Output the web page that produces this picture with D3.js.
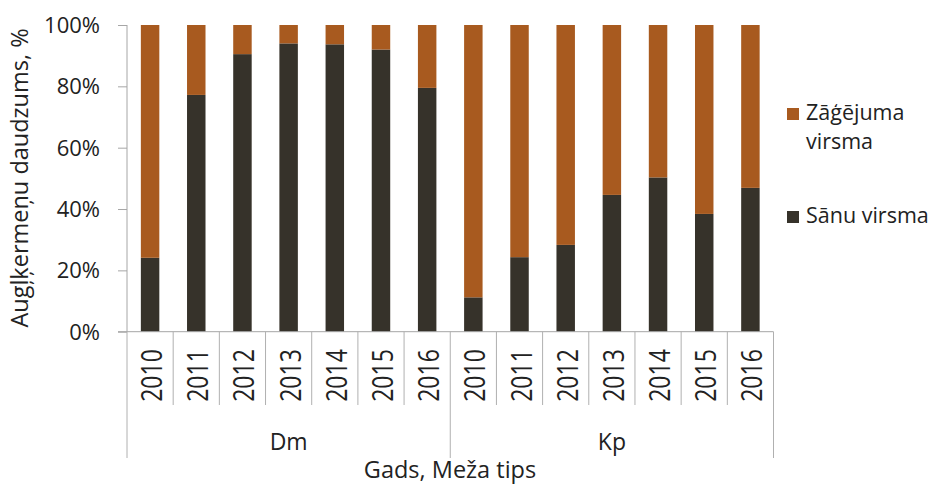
<!DOCTYPE html>
<html><head><meta charset="utf-8">
<script src="https://cdn.jsdelivr.net/npm/d3@7"></script>
<style>body{margin:0;background:#fff}svg text{font-family:"Open Sans",sans-serif}</style>
</head><body>
<svg id="c" width="929" height="486"></svg>
<script>
const groups = ["Dm", "Kp"];
const years = ["2010","2011","2012","2013","2014","2015","2016"];
const sanu = [24.1, 77.2, 90.5, 94.0, 93.7, 92.0, 79.5, 11.2, 24.3, 28.3, 44.6, 50.3, 38.4, 46.9];
const zagejuma = sanu.map(v => 100 - v);
const yTicks = [0, 20, 40, 60, 80, 100];
const seriesNames = ["Zāģējuma virsma", "Sānu virsma"];
const colors = {"Sānu virsma": "#36322a", "Zāģējuma virsma": "#a85a1f"};

const cats = [];
groups.forEach(g => years.forEach(y => cats.push(g + "|" + y)));
const data = cats.map((c, i) => ({cat: c, "Sānu virsma": sanu[i], "Zāģējuma virsma": zagejuma[i]}));

const svg = d3.select("#c");
const L = 127, R = 773.5, T = 25, B = 331.7;
const x = d3.scaleBand().domain(cats).range([L, R]).paddingInner(0.6).paddingOuter(0.3);
const step = x.step();
const y = d3.scaleLinear().domain([0, 100]).range([B, T]);

const stack = d3.stack().keys(["Sānu virsma", "Zāģējuma virsma"])(data);
svg.append("g").selectAll("g").data(stack).join("g")
  .attr("fill", d => colors[d.key])
  .selectAll("rect").data(d => d).join("rect")
  .attr("x", d => x(d.data.cat))
  .attr("width", x.bandwidth())
  .attr("y", d => y(d[1]))
  .attr("height", d => y(d[0]) - y(d[1]));

// y axis
const yAx = svg.append("g").attr("transform", `translate(${L},0)`)
  .call(d3.axisLeft(y).tickValues(yTicks).tickFormat(d => d + "%").tickSize(9).tickPadding(18));
yAx.select(".domain").attr("stroke", "#a6a6a6").attr("d", `M0,${T}V${B}`);
yAx.selectAll(".tick line").attr("stroke", "#a6a6a6");
yAx.selectAll(".tick text").attr("font-size", 22).attr("fill", "#222").attr("font-family", "Open Sans").attr("dy", "0.34em");

// x axis line
svg.append("line").attr("x1", L - 9).attr("x2", R).attr("y1", B).attr("y2", B).attr("stroke", "#a6a6a6");

// separators between years
const sep = svg.append("g").attr("stroke", "#b0b0b0");
cats.forEach((c, i) => {
  const xs = L + i * step;
  const isGroup = i % years.length === 0;
  sep.append("line").attr("x1", xs).attr("x2", xs).attr("y1", B).attr("y2", isGroup ? 458 : 405);
});
sep.append("line").attr("x1", R).attr("x2", R).attr("y1", B).attr("y2", 458);

// year labels
svg.append("g").selectAll("text").data(cats).join("text")
  .attr("transform", d => `translate(${x(d) + x.bandwidth() / 2 + 12},375.5) rotate(-90) scale(1,1.3)`)
  .attr("text-anchor", "middle")
  .attr("font-size", 23).attr("fill", "#222")
  .text(d => d.split("|")[1]);

// group labels
svg.append("g").selectAll("text").data(groups).join("text")
  .attr("x", (g, i) => L + (i * years.length + years.length / 2) * step)
  .attr("y", 450)
  .attr("text-anchor", "middle").attr("font-size", 23).attr("fill", "#222")
  .text(d => d);

// axis titles
svg.append("text").attr("x", 450).attr("y", 478).attr("text-anchor", "middle")
  .attr("font-size", 23.5).attr("fill", "#222").text("Gads, Meža tips");
svg.append("text").attr("transform", "translate(28,178) rotate(-90)").attr("text-anchor", "middle")
  .attr("font-size", 23.5).attr("fill", "#222").text("Augļķermeņu daudzums, %");

// legend
const leg = svg.append("g");
const legItems = [
  {name: seriesNames[0], lines: ["Zāģējuma", "virsma"], y: 120},
  {name: seriesNames[1], lines: ["Sānu virsma"], y: 223}
];
legItems.forEach(it => {
  leg.append("rect").attr("x", 787).attr("y", it.y - 12).attr("width", 12).attr("height", 12).attr("fill", colors[it.name]);
  it.lines.forEach((ln, j) => {
    leg.append("text").attr("x", 806).attr("y", it.y + j * 29).attr("font-size", 21.5).attr("fill", "#222").text(ln);
  });
});
</script>
</body></html>
